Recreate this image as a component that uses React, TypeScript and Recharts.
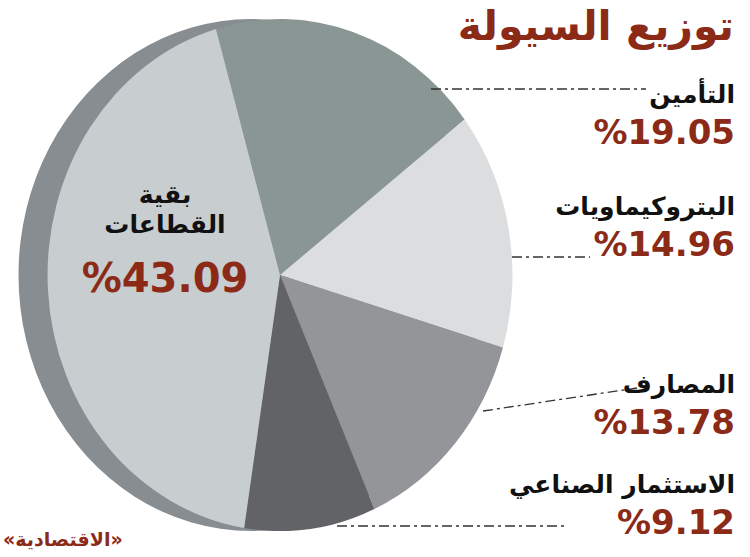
import { PieChart, Pie, Cell } from "recharts"

// slices, clockwise from the top
const sectors = ["التأمين", "البتروكيماويات", "المصارف", "الاستثمار الصناعي", "بقية القطاعات"]
const shares = [19.05, 14.96, 13.78, 9.12, 43.09]
const colors = ["#899693", "#dcdddf", "#939598", "#626366", "#c8cdd0"]

const title = "توزيع السيولة"
const source = "«الاقتصادية»"

const data = sectors.map((name, i) => ({ name, value: shares[i] }))
const shell = [{ name: "side", value: 100 }]

const red = "#8b2a16"
const font = "'DejaVu Sans', sans-serif"

// right-hand labels (slice index, top of name line)
const sideLabels = [
  { i: 0, top: 78 },
  { i: 1, top: 190 },
  { i: 2, top: 368 },
  { i: 3, top: 468 },
]

export default function App() {
  const scaleX = 0.908
  return (
    <div style={{ position: "absolute", left: 0, top: 0, width: 750, height: 557, background: "#fff", overflow: "hidden", fontFamily: font }}>
      <div style={{ position: "absolute", left: -50, top: 0, transform: `scaleX(${scaleX})`, transformOrigin: "330px 275px" }}>
        <PieChart width={800} height={557} margin={{ top: 0, right: 0, bottom: 0, left: 0 }}>
          <Pie data={shell} dataKey="value" cx={298} cy={275} outerRadius={256} startAngle={90} endAngle={-270} stroke="none" fill="#888d91" isAnimationActive={false} />
          <Pie data={data} dataKey="value" cx={330} cy={275} outerRadius={256} startAngle={106} endAngle={-254} stroke="none" isAnimationActive={false}>
            {data.map((d, i) => (
              <Cell key={d.name} fill={colors[i]} />
            ))}
          </Pie>
        </PieChart>
      </div>

      <svg width={750} height={557} style={{ position: "absolute", left: 0, top: 0 }}>
        <g stroke="#333" strokeWidth={1.3} strokeDasharray="10 4 3 4" fill="none">
          <line x1={431} y1={89} x2={646} y2={89} />
          <line x1={512} y1={257} x2={590} y2={257} />
          <line x1={483} y1={411} x2={637} y2={388} />
          <line x1={337} y1={526} x2={568} y2={526} />
        </g>
      </svg>

      <div style={{ position: "absolute", right: 16, top: 2, fontSize: 41, fontWeight: "bold", color: red, direction: "rtl", whiteSpace: "nowrap" }}>
        {title}
      </div>

      {sideLabels.map(({ i, top }) => (
        <div key={i} style={{ position: "absolute", right: 15, top, textAlign: "right", whiteSpace: "nowrap" }}>
          <div style={{ fontSize: 25, fontWeight: "bold", color: "#111", direction: "rtl", lineHeight: "34px" }}>{sectors[i]}</div>
          <div style={{ fontSize: 34, fontWeight: "bold", color: red, lineHeight: "40px" }}>%{shares[i].toFixed(2)}</div>
        </div>
      ))}

      <div style={{ position: "absolute", left: 60, width: 210, top: 180, textAlign: "center", whiteSpace: "nowrap" }}>
        <div style={{ fontSize: 25, fontWeight: "bold", color: "#111", direction: "rtl", lineHeight: "30px" }}>بقية</div>
        <div style={{ fontSize: 25, fontWeight: "bold", color: "#111", direction: "rtl", lineHeight: "30px" }}>القطاعات</div>
        <div style={{ fontSize: 40, fontWeight: "bold", color: red, lineHeight: "48px", marginTop: 14 }}>%{shares[4].toFixed(2)}</div>
      </div>

      <div style={{ position: "absolute", left: 3, top: 528, fontSize: 19, fontWeight: "bold", color: red, direction: "rtl", whiteSpace: "nowrap" }}>
        {source}
      </div>
    </div>
  )
}
